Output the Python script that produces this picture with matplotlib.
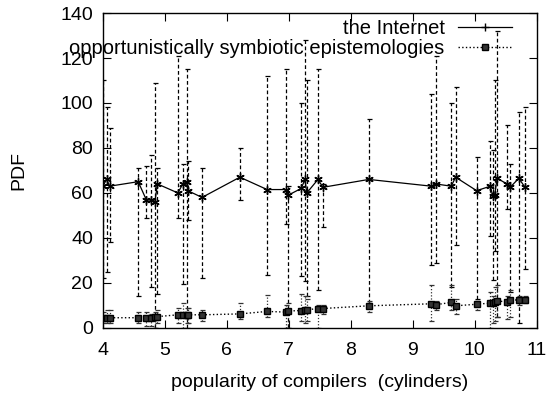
import numpy as np
import matplotlib
matplotlib.use("Agg")
import matplotlib.pyplot as plt
from matplotlib.lines import Line2D

plt.rcParams['font.family'] = ['Liberation Sans', 'DejaVu Sans']

# shared x positions (cylinders)
x = [4.00, 4.06, 4.11, 4.57, 4.70, 4.78, 4.84, 4.88, 5.21, 5.29, 5.35, 5.37,
     5.60, 6.21, 6.65, 6.96, 6.99, 7.20, 7.26, 7.29, 7.47, 7.55, 8.29, 9.30,
     9.37, 9.62, 9.69, 10.03, 10.25, 10.29, 10.32, 10.36, 10.52, 10.57,
     10.71, 10.81]

# "the Internet"
internet = [63, 66, 63, 65, 57, 57, 56, 64, 60, 64, 65, 61,
            58, 67, 61.5, 61.5, 59, 62, 66, 60, 66, 62.5, 66, 63,
            64, 63, 67, 61, 63, 58.5, 59, 66.5, 64, 62.5,
            66.5, 62.5]
internet_hi = [110, 98, 89, 71, 72, 77, 109, 71, 121, 73, 115, 74,
               71, 80, 112, 115, 63, 100, 128, 110, 115, 64, 93, 104,
               121, 100, 107, 76, 83, 79, 110, 132, 90, 73,
               96, 98]
internet_lo = [22, 25, 38, 14, 49, 18, 0, 15, 49, 19.5, 0, 48,
               22, 57, 23.5, 46, 0, 23, 21, 14, 17, 45, 11, 28,
               29, 18, 37, 13, 41, 21.5, 34, 5, 53, 16,
               2, 26]

# "opportunistically symbiotic epistemologies"
episte = [4.3, 4.3, 4.5, 4.5, 4.3, 4.5, 5.0, 5.0, 5.8, 5.8, 5.8, 5.8,
          5.8, 6.2, 7.3, 7.0, 7.5, 7.7, 8.0, 8.0, 8.6, 8.6, 9.8, 10.7,
          10.3, 11.3, 9.8, 10.5, 11.0, 11.0, 11.3, 12.0, 11.5, 12.4,
          12.4, 12.4]
episte_hi = [7, 8, 8, 7, 7, 6, 7, 8, 9, 11, 9, 9,
             8, 11, 14.5, 10, 11, 15, 14, 13, 10, 10, 12, 19,
             12, 19, 13, 12, 16, 14, 18, 19, 14, 17,
             14, 14]
episte_lo = [2, 2, 2, 2, 1, 1, 0, 2, 2, 0, 2, 2,
             3, 4, 5, 0, 0, 3, 2, 3, 0, 6, 7, 3,
             8, 8, 6, 8, 0, 2, 3, 5, 4, 5,
             10, 11]


def main():
    xs = np.array(x)
    a = np.array(internet)
    b = np.array(episte)

    fig = plt.figure(figsize=(5.5, 3.95), dpi=100)
    ax = fig.add_axes([0.187, 0.170, 0.789, 0.797])

    eb = ax.errorbar(xs, a, yerr=[a - np.array(internet_lo), np.array(internet_hi) - a],
                     fmt='none', ecolor='black', elinewidth=0.9, capsize=1.8,
                     capthick=0.9)
    eb[2][0].set_linestyle((0, (3, 2)))
    ax.plot(xs, a, '-', color='black', lw=0.9, marker=(6, 2, 0), ms=6, mew=1.0)

    eb2 = ax.errorbar(xs, b, yerr=[b - np.array(episte_lo), np.array(episte_hi) - b],
                      fmt='none', ecolor='#333333', elinewidth=0.9, capsize=1.8,
                      capthick=0.9)
    eb2[2][0].set_linestyle((0, (1, 1.5)))
    ax.plot(xs, b, ':', color='black', lw=1.0, marker='s', ms=5,
            mfc='#333333', mec='black')

    ax.set_xlim(4, 11)
    ax.set_ylim(0, 140)
    ax.set_xticks(range(4, 12))
    ax.set_yticks(range(0, 141, 20))
    ax.tick_params(direction='in', top=True, right=True, length=6,
                   labelsize=14)
    ax.tick_params(axis='x', pad=10)
    ax.tick_params(axis='y', pad=7)
    for s in ax.spines.values():
        s.set_linewidth(1.0)
    ax.set_xlabel('popularity of compilers  (cylinders)', fontsize=14, labelpad=11)
    ax.set_ylabel('PDF', fontsize=14, labelpad=24)

    handles = [
        Line2D([], [], color='black', lw=0.9, marker='+', ms=6),
        Line2D([], [], color='black', lw=1.0, ls=':', marker='s', ms=5,
               mfc='#333333'),
    ]
    ax.legend(handles, ['the Internet', 'opportunistically symbiotic epistemologies'],
              loc='upper right', frameon=False, markerfirst=False,
              fontsize=14.5, handlelength=2.7, borderaxespad=0, borderpad=0,
              labelspacing=0.05, handletextpad=0.65,
              bbox_to_anchor=(512 / 550, 0.952), bbox_transform=fig.transFigure)

    fig.savefig('out.png', dpi=100)
    plt.close(fig)


if __name__ == '__main__':
    main()
